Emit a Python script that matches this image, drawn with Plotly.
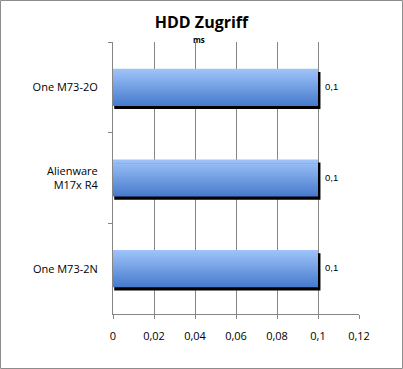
import plotly.graph_objects as go

categories = ["One M73-2O", "Alienware<br>M17x R4", "One M73-2N"]
values = [0.1, 0.1, 0.1]
x_ticks = [0, 0.02, 0.04, 0.06, 0.08, 0.1, 0.12]
x_tick_labels = ["0", "0,02", "0,04", "0,06", "0,08", "0,1", "0,12"]
title = "HDD Zugriff"
unit = "ms"

W, H = 403, 369
ML, MR, MT, MB = 113, 44, 42, 55
BAR_W = 0.41
N = 20
top_c = (158, 194, 248)
bot_c = (72, 124, 206)

fig = go.Figure()

# shadow
fig.add_trace(go.Bar(
    y=categories, x=[v + 0.0012 - 0.0006 for v in values], base=[0.0006] * len(values),
    orientation="h", width=BAR_W, offset=-BAR_W / 2 + 0.035,
    marker=dict(color="black", line=dict(width=0)),
    hoverinfo="skip", showlegend=False,
))

step = BAR_W / N
for i in range(N):
    t = i / (N - 1)
    c = tuple(round(top_c[k] + (bot_c[k] - top_c[k]) * t) for k in range(3))
    w = step * 1.4 if i < N - 1 else step
    fig.add_trace(go.Bar(
        y=categories, x=values, orientation="h",
        width=w, offset=-BAR_W / 2 + i * step,
        marker=dict(color=f"rgb{c}", line=dict(width=0)),
        hoverinfo="skip", showlegend=False,
    ))

annotations = [dict(text=f"<b>{unit}</b>", xref="paper", yref="paper",
                    x=(199 - ML) / (W - ML - MR), y=1 + 3 / (H - MT - MB),
                    xanchor="center", yanchor="middle", showarrow=False,
                    font=dict(size=8, family="Open Sans"))]
for cat, v in zip(categories, values):
    annotations.append(dict(text=f"{v:g}".replace(".", ","), x=v, y=cat, xref="x", yref="y",
                            xanchor="left", yanchor="middle", xshift=5, yshift=1, showarrow=False,
                            font=dict(size=9.5, family="Liberation Sans", color="black")))

fig.update_layout(
    width=W, height=H, barmode="overlay",
    margin=dict(l=ML, r=MR, t=MT, b=MB),
    paper_bgcolor="white", plot_bgcolor="white",
    separators=",.",
    font=dict(family="Open Sans", color="black", size=10),
    title=dict(text=f"<b>{title}</b>", x=0.5, xanchor="center", y=1 - 22 / H, yanchor="middle",
               font=dict(size=16, family="Open Sans", color="black")),
    xaxis=dict(range=[0, 0.12], tickvals=x_ticks, ticktext=x_tick_labels,
               showgrid=True, gridcolor="#868686", gridwidth=1,
               showline=True, linecolor="#868686", linewidth=1,
               ticks="outside", ticklen=4, tickcolor="#868686", ticklabelstandoff=8,
               tickfont=dict(size=11, family="Open Sans"), zeroline=False, fixedrange=True),
    yaxis=dict(autorange="reversed", showline=True, linecolor="#868686", linewidth=1,
               ticks="outside", ticklen=4, tickcolor="#868686", tickson="boundaries",
               showgrid=False, tickfont=dict(size=11, family="Open Sans"), ticklabelstandoff=12,
               fixedrange=True),
    annotations=annotations,
    shapes=[dict(type="rect", xref="paper", yref="paper",
                 x0=-(ML - 0.5) / (W - ML - MR), x1=1 + (MR - 0.5) / (W - ML - MR),
                 y0=-(MB - 0.5) / (H - MT - MB), y1=1 + (MT - 0.5) / (H - MT - MB),
                 line=dict(color="#8c8c8c", width=1), layer="above")],
)

fig.write_html("out.html")
